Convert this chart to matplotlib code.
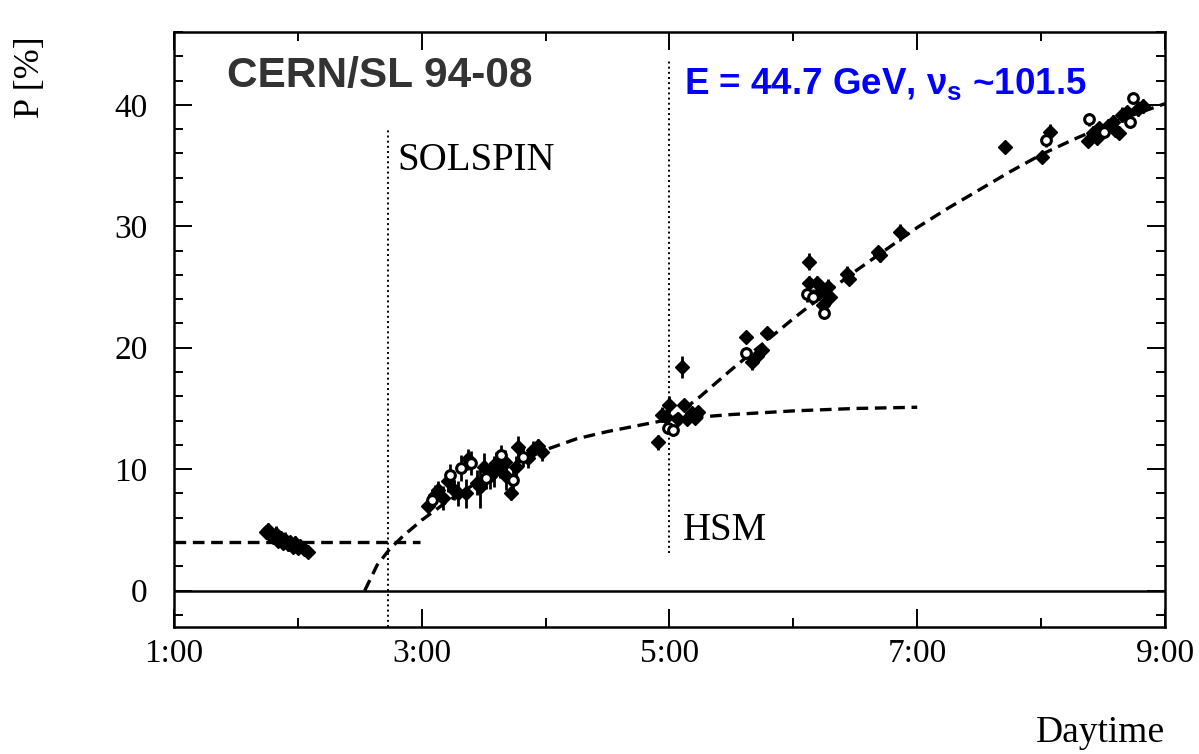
import numpy as np
import matplotlib.pyplot as plt
from matplotlib.ticker import MultipleLocator, FixedLocator

plt.rcParams['font.family'] = ['Liberation Serif', 'DejaVu Serif']

# measured polarisation, time of day in decimal hours
filled_t = [1.74, 1.76, 1.78, 1.80, 1.82, 1.84, 1.86, 1.88, 1.90, 1.92, 1.94, 1.96, 1.98, 2.00, 2.02, 2.05, 2.08,
            3.05, 3.11, 3.13, 3.17, 3.21, 3.26, 3.29, 3.36, 3.37, 3.45, 3.47, 3.50, 3.55, 3.58, 3.60, 3.63, 3.67,
            3.68, 3.72, 3.76, 3.78, 3.86, 3.90, 3.94, 3.97,
            4.91, 4.94, 4.97, 5.00, 5.07, 5.10, 5.12, 5.14, 5.18, 5.21, 5.23,
            5.62, 5.67, 5.71, 5.75, 5.79,
            6.13, 6.13, 6.19, 6.21, 6.28, 6.30, 6.24, 6.43, 6.45, 6.68, 6.70, 6.86,
            7.71, 8.01, 8.07,
            8.38, 8.42, 8.45, 8.47, 8.54, 8.58, 8.60, 8.63, 8.65, 8.69, 8.78, 8.82]
filled_p = [4.8, 5.0, 4.5, 4.4, 4.7, 4.1, 4.3, 3.9, 4.2, 3.8, 4.0, 3.6, 3.9, 3.5, 3.7, 3.4, 3.2,
            7.0, 7.9, 8.3, 7.6, 9.0, 8.3, 8.0, 8.0, 10.8, 8.9, 8.5, 10.2, 9.4, 9.8, 10.5, 10.1, 10.6,
            9.4, 8.0, 10.2, 11.8, 10.9, 11.6, 11.9, 11.4,
            12.2, 14.5, 14.3, 15.3, 14.1, 18.4, 15.3, 14.1, 14.6, 14.2, 14.7,
            20.9, 18.8, 19.3, 19.8, 21.2,
            27.1, 25.3, 25.3, 24.5, 25.0, 24.2, 23.5, 26.1, 25.7, 27.9, 27.6, 29.5,
            36.5, 35.7, 37.8,
            37.0, 37.7, 37.3, 38.1, 38.3, 38.6, 37.9, 37.7, 39.2, 39.4, 39.7, 39.9]
filled_err = [0.5, 0.6, 0.5, 0.5, 0.6, 0.5, 0.5, 0.5, 0.6, 0.5, 0.5, 0.5, 0.6, 0.5, 0.5, 0.5, 0.4,
              0.6, 0.8, 0.7, 1.0, 0.9, 0.8, 1.0, 1.2, 0.9, 1.0, 1.7, 1.1, 1.0, 1.3, 0.9, 0.8, 1.0,
              1.1, 0.5, 0.9, 0.9, 0.8, 0.7, 0.6, 0.7,
              0.6, 0.6, 0.5, 0.7, 0.5, 0.9, 0.5, 0.5, 0.5, 0.5, 0.5,
              0.5, 0.6, 0.6, 0.5, 0.4,
              0.7, 0.6, 0.6, 0.6, 0.7, 0.6, 0.6, 0.6, 0.5, 0.5, 0.5, 0.7,
              0.5, 0.5, 0.6,
              0.5, 0.6, 0.5, 0.5, 0.5, 0.6, 0.5, 0.5, 0.6, 0.5, 0.6, 0.6]

open_t = [3.08, 3.23, 3.32, 3.40, 3.52, 3.64, 3.74, 3.82, 4.99, 5.03, 5.62, 6.11, 6.16, 6.25,
          8.04, 8.39, 8.51, 8.72, 8.74]
open_p = [7.5, 9.5, 10.1, 10.5, 9.3, 11.2, 9.1, 11.0, 13.4, 13.2, 19.6, 24.4, 24.2, 22.9,
          37.1, 38.8, 37.8, 38.6, 40.6]
open_err = [0.7, 0.9, 1.1, 1.0, 0.9, 0.8, 0.9, 0.8, 0.5, 0.5, 0.5, 0.6, 0.6, 0.5,
            0.6, 0.5, 0.5, 0.5, 0.5]

# fitted curves (dashed)
flat_t = [1.0, 2.99]
flat_p = [4.0, 4.0]
rise1_t = [2.54, 2.64, 2.74, 2.85, 3.0, 3.2, 3.4, 3.6, 3.8, 4.0, 4.25, 4.5, 4.75, 5.0, 5.5, 6.0, 6.5, 7.0]
rise1_p = [0.0, 2.1, 3.4, 4.5, 5.8, 7.3, 8.6, 9.7, 10.7, 11.6, 12.5, 13.1, 13.6, 14.1, 14.5, 14.8, 15.0, 15.1]
rise2_t = [5.0, 5.25, 5.5, 5.75, 6.0, 6.25, 6.5, 6.75, 7.0, 7.25, 7.5, 7.75, 8.0, 8.25, 8.5, 8.75, 9.0]
rise2_p = [14.0, 16.0, 18.2, 20.3, 22.4, 24.4, 26.3, 28.1, 29.9, 31.5, 33.0, 34.5, 35.9, 37.1, 38.2, 39.2, 40.1]

solspin_t = 2.73
hsm_t = 5.0

xticks = [1, 3, 5, 7, 9]
xlabels = ['1:00', '3:00', '5:00', '7:00', '9:00']
yticks = [0, 10, 20, 30, 40]

fig = plt.figure(figsize=(11.99, 7.54), dpi=100)
ax = fig.add_axes([0.1451, 0.1684, 0.8265, 0.7891])

ax.axhline(0, color='black', lw=1.8)
ax.vlines(solspin_t, -3, 38.1, colors='black', linestyles=':', lw=1.4)
ax.vlines(hsm_t, 3.1, 43.8, colors='black', linestyles=':', lw=1.4)

dash = dict(color='black', lw=2.4, dashes=(3.5, 2.0))
ax.plot(flat_t, flat_p, **dash)
ax.plot(rise1_t, rise1_p, **dash)
ax.plot(rise2_t, rise2_p, **dash)

ax.errorbar(filled_t, filled_p, yerr=filled_err, fmt='D', ms=7.5, color='black',
            ecolor='black', elinewidth=2.0, capsize=0)
ax.errorbar(open_t, open_p, yerr=open_err, fmt='o', ms=7, mfc='white', mec='black',
            mew=2.2, ecolor='black', elinewidth=2.0, capsize=0)

ax.set_xlim(1, 9)
ax.set_ylim(-3, 46)
ax.xaxis.set_major_locator(FixedLocator(xticks))
ax.set_xticklabels(xlabels)
ax.xaxis.set_minor_locator(MultipleLocator(1))
ax.yaxis.set_major_locator(FixedLocator(yticks))
ax.yaxis.set_minor_locator(MultipleLocator(2))
ax.tick_params(which='both', direction='in', top=True, right=True, width=1.4, labelsize=24)
ax.tick_params(which='major', length=13)
ax.tick_params(which='minor', length=6.5)
ax.tick_params(axis='y', pad=19)
ax.tick_params(axis='x', pad=8)
for s in ax.spines.values():
    s.set_linewidth(1.8)

ax.text(solspin_t + 0.07, 34.65, 'SOLSPIN', fontsize=28, va='baseline')
ax.text(hsm_t + 0.11, 4.2, 'HSM', fontsize=28, va='baseline')
ax.text(1.43, 41.5, 'CERN/SL 94-08', fontsize=30.5, fontweight='bold', color='#333333',
        family=['Liberation Sans', 'DejaVu Sans'], va='baseline')
ax.text(5.12, 40.8, r'E = 44.7 GeV, ν$_\mathdefault{s}$ ~101.5', fontsize=26.5, fontweight='bold',
        color='#0000ff', family=['Liberation Sans', 'DejaVu Sans'], va='baseline')

ax.text(1.0, -0.193, 'Daytime', transform=ax.transAxes, fontsize=27, ha='right', va='baseline')
ax.text(-0.145, 0.924, 'P [%]', transform=ax.transAxes, fontsize=26, rotation=90,
        ha='center', va='center')

fig.savefig('out.png', dpi=100)
